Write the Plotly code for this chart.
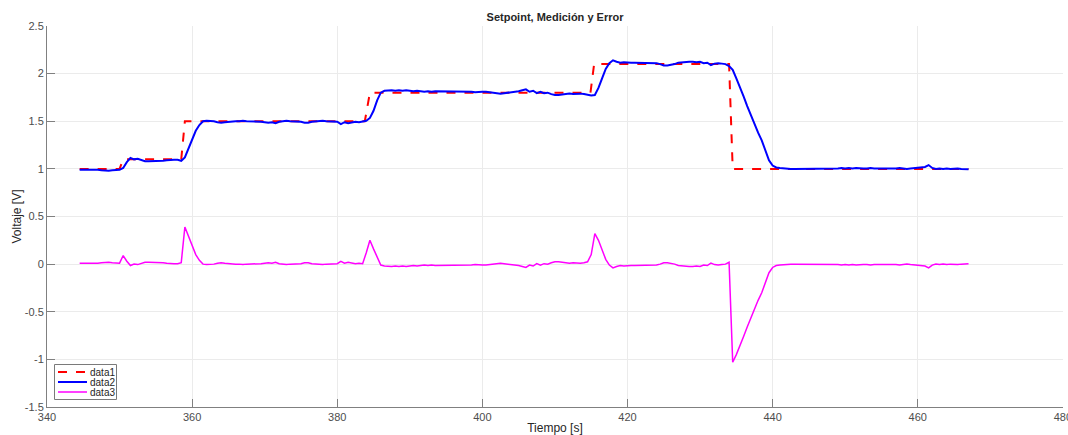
import numpy as np
import plotly.graph_objects as go

# ---------------- data ----------------
DT = 0.5  # sample period [s]

# Setpoint (data1): vertices of the piecewise-constant reference
sp_t = [344.5, 350.0, 350.5, 358.5, 359.0, 383.8, 384.5, 414.9, 415.4, 434.0, 434.5, 467.0]
sp_v = [1.0, 1.0, 1.1, 1.1, 1.5, 1.5, 1.8, 1.8, 2.1, 2.1, 1.0, 1.0]

# Measurement (data2): segment start times and sampled values
meas_start = [344.5, 350.5, 359.0, 362.0, 384.0, 387.0, 415.0, 419.0, 434.0, 441.5]
meas_seg1 = [0.99, 0.99, 0.995, 0.99, 0.99, 0.99, 0.985, 0.98, 0.98, 0.985, 0.985, 0.99]
meas_seg2 = [1.01, 1.07, 1.115, 1.10, 1.105, 1.09, 1.08, 1.08, 1.08, 1.08, 1.085, 1.085,
             1.09, 1.095, 1.095, 1.095, 1.085]
meas_seg3 = [1.12, 1.21, 1.32, 1.40, 1.46, 1.50]
meas_seg4 = [1.505, 1.505, 1.50, 1.49, 1.485, 1.49, 1.495, 1.50, 1.50, 1.50,
             1.505, 1.50, 1.50, 1.50, 1.495, 1.495, 1.49, 1.485, 1.49, 1.48,
             1.495, 1.50, 1.505, 1.50, 1.50, 1.495, 1.495, 1.485, 1.485, 1.495,
             1.50, 1.50, 1.505, 1.50, 1.50, 1.495, 1.495, 1.47, 1.49, 1.48,
             1.485, 1.495, 1.49, 1.495]
meas_seg5 = [1.505, 1.535, 1.61, 1.72, 1.80, 1.82]
meas_seg6 = [1.825, 1.825, 1.82, 1.825, 1.82, 1.825, 1.82, 1.815, 1.82, 1.815,
             1.81, 1.815, 1.81, 1.815, 1.815, 1.81, 1.815, 1.815, 1.81, 1.81,
             1.81, 1.815, 1.81, 1.81, 1.805, 1.81, 1.81, 1.81, 1.805, 1.80,
             1.795, 1.79, 1.795, 1.80, 1.80, 1.81, 1.815, 1.825, 1.835, 1.81,
             1.82, 1.795, 1.81, 1.795, 1.80, 1.785, 1.775, 1.775, 1.78, 1.79,
             1.79, 1.785, 1.79, 1.79, 1.785, 1.775]
meas_seg7 = [1.77, 1.775, 1.85, 1.95, 2.05, 2.11, 2.14, 2.125]
meas_seg8 = [2.115, 2.12, 2.115, 2.115, 2.115, 2.115, 2.11, 2.115, 2.11, 2.115,
             2.11, 2.10, 2.085, 2.085, 2.09, 2.10, 2.115, 2.12, 2.12, 2.125,
             2.125, 2.12, 2.125, 2.11, 2.115, 2.09, 2.105, 2.11, 2.105, 2.10]
meas_seg9 = [2.08, 2.04, 1.95, 1.86, 1.76, 1.66, 1.56, 1.47, 1.38, 1.30,
             1.20, 1.09, 1.035, 1.015, 1.01]
meas_seg10 = [1.005, 1.005, 1.0, 1.0, 1.0, 1.0, 1.005, 1.005, 1.005, 1.0,
              1.0, 1.0, 1.0, 1.0, 1.005, 1.005, 1.01, 1.005, 1.01, 1.005,
              1.01, 1.005, 1.005, 1.005, 1.01, 1.005, 1.005, 1.0, 1.005, 1.005,
              1.0, 1.005, 1.01, 1.005, 1.0, 1.005, 1.01, 1.01, 1.015, 1.02,
              1.04, 1.01, 1.0, 1.005, 1.0, 1.005, 1.0, 1.005, 1.005, 1.0,
              1.0, 0.995]
meas_segs = [meas_seg1, meas_seg2, meas_seg3, meas_seg4, meas_seg5,
             meas_seg6, meas_seg7, meas_seg8, meas_seg9, meas_seg10]

# Error (data3): same segment start times, sampled values
err_seg1 = [0.01, 0.01, 0.005, 0.01, 0.01, 0.01, 0.015, 0.02, 0.02, 0.015, 0.015, 0.01]
err_seg2 = [0.09, 0.03, -0.015, 0.0, -0.005, 0.01, 0.02, 0.02, 0.02, 0.02, 0.015, 0.015,
            0.01, 0.005, 0.005, 0.005, 0.015]
err_seg3 = [0.39, 0.29, 0.18, 0.10, 0.04, 0.0]
err_seg4 = [-0.005, -0.005, 0.0, 0.01, 0.015, 0.01, 0.005, 0.0, 0.0, 0.0,
            -0.005, 0.0, 0.0, 0.0, 0.005, 0.005, 0.01, 0.015, 0.01, 0.02,
            0.005, 0.0, -0.005, 0.0, 0.0, 0.005, 0.005, 0.015, 0.015, 0.005,
            0.0, 0.0, -0.005, 0.0, 0.0, 0.005, 0.005, 0.03, 0.01, 0.02,
            0.015, 0.005, 0.01, 0.005]
err_seg5 = [0.12, 0.25, 0.16, 0.07, -0.01, -0.02]
err_seg6 = [-0.025, -0.025, -0.02, -0.025, -0.02, -0.025, -0.02, -0.015, -0.02, -0.015,
            -0.01, -0.015, -0.01, -0.015, -0.015, -0.01, -0.015, -0.015, -0.01, -0.01,
            -0.01, -0.015, -0.01, -0.01, -0.005, -0.01, -0.01, -0.01, -0.005, 0.0,
            0.005, 0.01, 0.005, 0.0, 0.0, -0.01, -0.015, -0.025, -0.035, -0.01,
            -0.02, 0.005, -0.01, 0.005, 0.0, 0.015, 0.025, 0.025, 0.02, 0.01,
            0.01, 0.015, 0.01, 0.01, 0.015, 0.025]
err_seg7 = [0.10, 0.32, 0.25, 0.15, 0.05, -0.01, -0.04, -0.025]
err_seg8 = [-0.015, -0.02, -0.015, -0.015, -0.015, -0.015, -0.01, -0.015, -0.01, -0.015,
            -0.01, 0.0, 0.015, 0.015, 0.01, 0.0, -0.015, -0.02, -0.02, -0.025,
            -0.025, -0.02, -0.025, -0.01, -0.015, 0.01, -0.005, -0.01, -0.005, 0.0]
err_seg9 = [0.02, -1.03, -0.95, -0.86, -0.76, -0.66, -0.56, -0.47, -0.38, -0.30,
            -0.20, -0.09, -0.035, -0.015, -0.01]
err_seg10 = [-0.005, -0.005, 0.0, 0.0, 0.0, 0.0, -0.005, -0.005, -0.005, 0.0,
             0.0, 0.0, 0.0, 0.0, -0.005, -0.005, -0.01, -0.005, -0.01, -0.005,
             -0.01, -0.005, -0.005, -0.005, -0.01, -0.005, -0.005, 0.0, -0.005, -0.005,
             0.0, -0.005, -0.01, -0.005, 0.0, -0.005, -0.01, -0.01, -0.015, -0.02,
             -0.04, -0.01, 0.0, -0.005, 0.0, -0.005, 0.0, -0.005, -0.005, 0.0,
             0.0, 0.005]
err_segs = [err_seg1, err_seg2, err_seg3, err_seg4, err_seg5,
            err_seg6, err_seg7, err_seg8, err_seg9, err_seg10]

series_names = ["data1", "data2", "data3"]
x_ticks = [340, 360, 380, 400, 420, 440, 460, 480]
y_ticks = [-1.5, -1, -0.5, 0, 0.5, 1, 1.5, 2, 2.5]


def build(starts, segs):
    ts, vs = [], []
    for s, seg in zip(starts, segs):
        ts.extend((s + DT * np.arange(len(seg))).tolist())
        vs.extend(seg)
    return ts, vs


meas_t, meas_v = build(meas_start, meas_segs)
err_t, err_v = build(meas_start, err_segs)

# ---------------- figure ----------------
FONT = "Liberation Sans, Arial, Helvetica, sans-serif"
W, H = 1068, 435
ML, MR, MT, MB = 47, 5, 26, 28
PW, PH = W - ML - MR, H - MT - MB

styles = [dict(color="#ff0000", width=2, dash="dash"),
          dict(color="#0000ff", width=2),
          dict(color="#ff00ff", width=1.5)]

fig = go.Figure()
fig.add_trace(go.Scatter(x=sp_t, y=sp_v, mode="lines", name=series_names[0],
                         line=styles[0], showlegend=False))
fig.add_trace(go.Scatter(x=meas_t, y=meas_v, mode="lines", name=series_names[1],
                         line=styles[1], showlegend=False))
fig.add_trace(go.Scatter(x=err_t, y=err_v, mode="lines", name=series_names[2],
                         line=styles[2], showlegend=False))

axis_common = dict(
    showgrid=True, gridcolor="#ebebeb", gridwidth=1,
    showline=True, linecolor="#808080", linewidth=1, mirror=False,
    ticks="inside", ticklen=8, tickcolor="#808080", tickwidth=1,
    zeroline=False, automargin=False, ticklabeloverflow="allow",
    tickfont=dict(family=FONT, size=11, color="#4d4d4d"),
)


# compact legend box (MATLAB style), placed in paper coordinates
def px_x(px):
    return (px - ML) / PW


def px_y(py):
    return (H - MB - py) / PH


shapes = [dict(type="rect", xref="paper", yref="paper",
               x0=px_x(54.5), x1=px_x(116.5), y0=px_y(399.5), y1=px_y(364.5),
               line=dict(color="#7a7a7a", width=1), fillcolor="white", layer="above")]
annotations = []
for i, (nm, st) in enumerate(zip(series_names, styles)):
    yy = px_y(372 + 10 * i)
    shapes.append(dict(type="line", xref="paper", yref="paper",
                       x0=px_x(58), x1=px_x(87), y0=yy, y1=yy,
                       line=dict(color=st["color"], width=st["width"],
                                 dash=st.get("dash", "solid")), layer="above"))
    annotations.append(dict(text=nm, xref="paper", yref="paper", x=px_x(88), y=yy,
                            xanchor="left", yanchor="middle", showarrow=False,
                            font=dict(family=FONT, size=10, color="#262626")))

fig.update_layout(
    width=W, height=H,
    margin=dict(l=ML, r=MR, t=MT, b=MB),
    paper_bgcolor="white", plot_bgcolor="white",
    title=dict(text="<b>Setpoint, Medición y Error</b>", x=0.5, xref="paper",
               y=1 - 17 / H, yref="container", yanchor="middle",
               font=dict(family=FONT, size=11, color="#262626")),
    xaxis=dict(range=[340, 480.02], tickvals=x_ticks,
               ticktext=[str(v) for v in x_ticks],
               title=dict(text="Tiempo [s]", standoff=2,
                          font=dict(family=FONT, size=12, color="#262626")),
               **axis_common),
    yaxis=dict(range=[-1.5, 2.5], tickvals=y_ticks,
               ticktext=[("%g" % v) for v in y_ticks],
               title=dict(text="Voltaje [V]", standoff=0,
                          font=dict(family=FONT, size=12, color="#262626")),
               **axis_common),
    shapes=shapes,
    annotations=annotations,
    showlegend=False,
)

fig.write_html("out.html")
